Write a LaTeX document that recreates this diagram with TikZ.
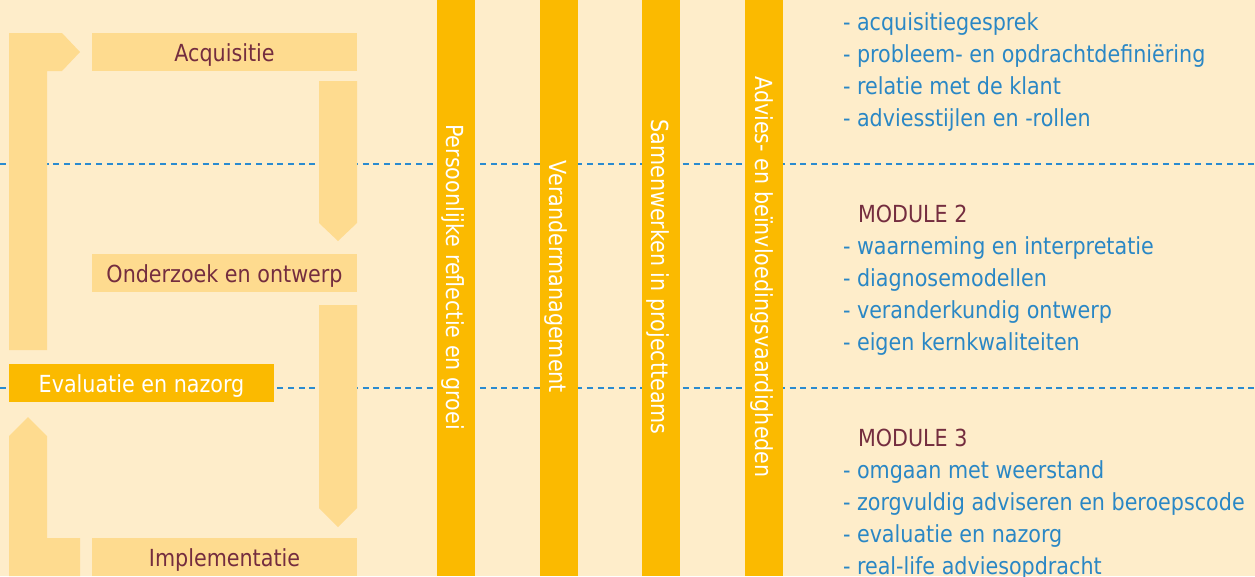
\documentclass[tikz,border=0pt]{standalone}
\usepackage{fontspec}
\setmainfont[FakeStretch=0.88]{DejaVu Sans}
\definecolor{cFEEDCA}{RGB}{254,237,202}
\definecolor{cFEDB8F}{RGB}{254,219,143}
\definecolor{cFBBA00}{RGB}{251,186,0}
\definecolor{c742D3F}{RGB}{116,45,63}
\definecolor{c2A87C5}{RGB}{42,135,197}
\definecolor{c2A8BD0}{RGB}{42,139,208}

\begin{document}
\begin{tikzpicture}[y=1pt, x=1pt, yscale=-1, inner sep=0pt, outer sep=0pt,
  stagebox/.style={fill=cFEDB8F, text=c742D3F, minimum width=265pt,
    text height=28pt, text depth=10pt, font=\fontsize{23.5}{28}\selectfont},
  barlabel/.style={text=white, rotate=-90, anchor=base,
    font=\fontsize{23.5}{28}\selectfont},
  itemtext/.style={text=c2A87C5, anchor=base west,
    font=\fontsize{23.5}{28}\selectfont},
  moduletext/.style={text=c742D3F, anchor=base west,
    font=\fontsize{23.5}{28}\selectfont},
  phaseline/.style={draw=c2A8BD0, line width=1.4pt,
    dash pattern=on 6pt off 4.67pt}]
  \useasboundingbox (0,0) rectangle (1255,576);
  \path[fill=cFEEDCA] (0,0) rectangle (1255,576);
  \path[phaseline] (0,164) -- (1255,164);
  \path[phaseline] (0,388) -- (1255,388);
  \path[fill=cFEDB8F] (9,350) -- (9,33) -- (62,33) -- (80,52) -- (62,71) --
    (47,71) -- (47,350) -- cycle;
  \path[fill=cFEDB8F] (319,81) -- (357,81) -- (357,223) -- (338,241) --
    (319,223) -- cycle;
  \path[fill=cFEDB8F] (319,305) -- (357,305) -- (357,508) -- (338,527) --
    (319,508) -- cycle;
  \path[fill=cFEDB8F] (9,576) -- (9,436) -- (28,417) -- (47,436) -- (47,538) --
    (80,538) -- (80,576) -- cycle;
  \path (224.5,52) node[stagebox] (acquisitie) {Acquisitie};
  \path (224.5,273) node[stagebox] (onderzoek) {Onderzoek en ontwerp};
  \path (224.5,557) node[stagebox] (implementatie) {Implementatie};
  \path (141.5,383) node[stagebox, fill=cFBBA00, text=white] (evaluatie)
    {Evaluatie en nazorg};
  \path[fill=cFBBA00] (437,0) rectangle (475,576);
  \path[fill=cFBBA00] (540,0) rectangle (578,576);
  \path[fill=cFBBA00] (642,0) rectangle (680,576);
  \path[fill=cFBBA00] (745,0) rectangle (783,576);
  \path (446,277) node[barlabel] (reflectie)
    {Persoonlijke reflectie en groei};
  \path (549,277) node[barlabel] (verander) {Verandermanagement};
  \path (651,277) node[barlabel] (samenwerken)
    {Samenwerken in projectteams};
  \path (755,277) node[barlabel] (advies)
    {Advies- en beïnvloedingsvaardigheden};
  \path (843,30) node[itemtext] (item11) {- acquisitiegesprek};
  \path (843,62) node[itemtext] (item12) {- probleem- en opdrachtdefiniëring};
  \path (843,94) node[itemtext] (item13) {- relatie met de klant};
  \path (843,126) node[itemtext] (item14) {- adviesstijlen en -rollen};
  \path (858,222) node[moduletext] (module2) {MODULE 2};
  \path (843,254) node[itemtext] (item21) {- waarneming en interpretatie};
  \path (843,286) node[itemtext] (item22) {- diagnosemodellen};
  \path (843,318) node[itemtext] (item23) {- veranderkundig ontwerp};
  \path (843,350) node[itemtext] (item24) {- eigen kernkwaliteiten};
  \path (858,446) node[moduletext] (module3) {MODULE 3};
  \path (843,478) node[itemtext] (item31) {- omgaan met weerstand};
  \path (843,510) node[itemtext] (item32)
    {- zorgvuldig adviseren en beroepscode};
  \path (843,542) node[itemtext] (item33) {- evaluatie en nazorg};
  \path (843,574) node[itemtext] (item34) {- real-life adviesopdracht};
\end{tikzpicture}
\end{document}
